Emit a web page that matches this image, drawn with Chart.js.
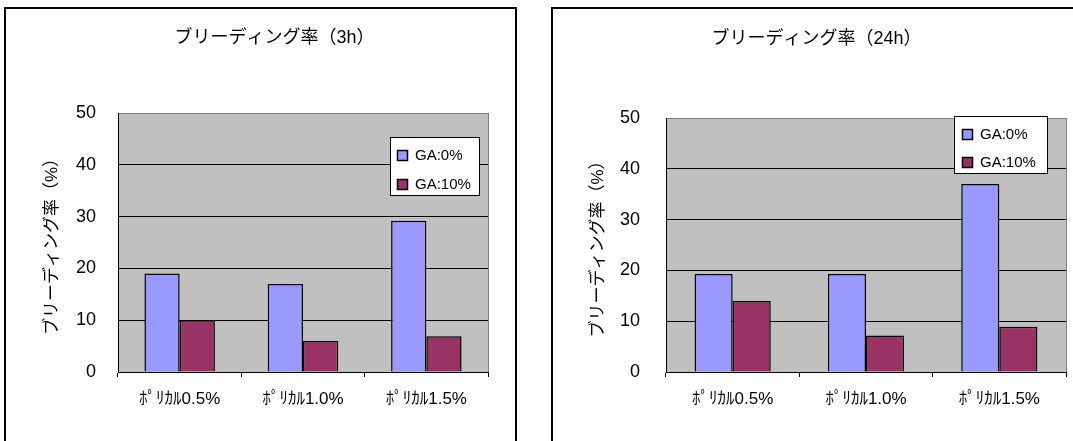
<!DOCTYPE html>
<html lang="ja">
<head>
<meta charset="UTF-8">
<title>ブリーディング率</title>
<script src="https://cdn.jsdelivr.net/npm/chart.js"></script>
<style>
  body { margin: 0; background: #fff; overflow: hidden; }
  .box { position: absolute; top: 7px; border-left: 2px solid #000; border-top: 2px solid #000; }
  #box1 { left: 4px; width: 509px; height: 440px; border-right: 2px solid #000; }
  #box2 { left: 551px; width: 520px; height: 440px; }
  canvas { display: block; }
</style>
</head>
<body>
<div class="box" id="box1"><canvas id="chart3h" width="537" height="440"></canvas></div>
<div class="box" id="box2"><canvas id="chart24h" width="527" height="440"></canvas></div>

<script>
const categories = ['ﾎﾟﾘｶﾙ0.5%', 'ﾎﾟﾘｶﾙ1.0%', 'ﾎﾟﾘｶﾙ1.5%'];
const seriesNames = ['GA:0%', 'GA:10%'];
const ga0_3h = [19, 17, 29.2];
const ga10_3h = [10, 6, 6.9];
const ga0_24h = [19.3, 19.3, 37];
const ga10_24h = [14, 7.2, 8.9];
const yMax = 50;
const yStep = 10;

const FONT = '"Liberation Sans", "Noto Sans CJK JP", sans-serif';

// grey plot area + grey right edge
const plotBg = {
    id: 'plotBg',
    beforeDraw(chart) {
        const { ctx, chartArea: a } = chart;
        ctx.save();
        ctx.fillStyle = '#c0c0c0';
        ctx.fillRect(a.left, a.top, a.right - a.left, a.bottom - a.top);
        ctx.restore();
    },
    afterDraw(chart) {
        const { ctx, chartArea: a } = chart;
        ctx.save();
        ctx.strokeStyle = '#808080';
        ctx.lineWidth = 1;
        ctx.beginPath();
        ctx.moveTo(a.right + 0.5, a.top);
        ctx.lineTo(a.right + 0.5, a.bottom);
        ctx.stroke();
        ctx.restore();
    }
};

// legend box drawn inside the plot, like the original
const boxLegend = {
    id: 'boxLegend',
    afterDraw(chart, args, opts) {
        const { ctx, chartArea: a } = chart;
        const x = Math.round(a.left + opts.dx), y = Math.round(a.top + opts.dy);
        ctx.save();
        ctx.fillStyle = '#fff';
        ctx.fillRect(x, y, opts.w, opts.h);
        ctx.strokeStyle = '#000';
        ctx.lineWidth = 1;
        ctx.strokeRect(x + 0.5, y + 0.5, opts.w, opts.h);
        ctx.font = '15px ' + FONT;
        ctx.textBaseline = 'middle';
        chart.data.datasets.forEach((ds, i) => {
            const cy = Math.round(y + opts.rowTop + i * opts.rowGap);
            ctx.fillStyle = ds.backgroundColor;
            ctx.fillRect(x + opts.sq, cy - 5, 10, 10);
            ctx.lineWidth = 1.5;
            ctx.strokeRect(x + opts.sq + 0.5, cy - 4.5, 10, 10);
            ctx.fillStyle = '#000';
            ctx.fillText(ds.label, x + opts.tx, cy + 1);
        });
        ctx.restore();
    }
};

function makeChart(id, title, d0, d1, lay) {
    new Chart(document.getElementById(id), {
        type: 'bar',
        data: {
            labels: categories,
            datasets: [
                { label: seriesNames[0], data: d0, backgroundColor: '#9999ff', borderColor: '#000', borderWidth: 1.5 },
                { label: seriesNames[1], data: d1, backgroundColor: '#993366', borderColor: '#000', borderWidth: 1.5 }
            ]
        },
        options: {
            responsive: false,
            animation: false,
            layout: { padding: 0 },
            datasets: { bar: { categoryPercentage: 2 / 3.5, barPercentage: 1 } },
            plugins: {
                legend: { display: false },
                tooltip: { enabled: false },
                title: {
                    display: true,
                    text: title,
                    color: '#000',
                    font: { family: FONT, size: 18, weight: 'normal' },
                    padding: { top: lay.titleTop, bottom: lay.titleBottom }
                },
                boxLegend: lay.legend
            },
            scales: {
                x: {
                    afterFit: s => { s.height = 77; },
                    grid: { display: true, drawOnChartArea: false, drawTicks: true, tickLength: 5, color: '#000' },
                    border: { color: '#000', width: 1 },
                    ticks: { color: '#000', padding: 12, font: { family: FONT, size: 17 } }
                },
                y: {
                    min: 0,
                    max: yMax,
                    afterFit: s => { s.width = lay.yWidth; },
                    grid: {
                        drawTicks: false,
                        color: c => (c.tick && c.tick.value === yMax ? '#808080' : '#000')
                    },
                    border: { color: '#000', width: 1 },
                    ticks: { stepSize: yStep, color: '#000', padding: lay.tickPad, font: { family: FONT, size: 18 } },
                    title: {
                        display: true,
                        text: 'ブリーディング率（%）',
                        color: '#000',
                        font: { family: FONT, size: 17 },
                        padding: { top: lay.yTitlePad, bottom: 0 }
                    }
                },
                // empty right-hand spacer so the title centres over the whole frame
                spacer: {
                    position: 'right',
                    afterFit: s => { s.width = lay.rightGap; },
                    grid: { drawOnChartArea: false, drawTicks: false },
                    border: { display: false },
                    ticks: { display: false }
                }
            }
        },
        plugins: [plotBg, boxLegend]
    });
}

makeChart('chart3h', 'ブリーディング率（3h）', ga0_3h, ga10_3h, {
    rightGap: 55, yWidth: 112, tickPad: 22, yTitlePad: 36,
    titleTop: 18, titleBottom: 64.4,
    legend: { dx: 272, dy: 24, w: 89, h: 58, rowTop: 17.5, rowGap: 29, sq: 7, tx: 25 }
});

makeChart('chart24h', 'ブリーディング率（24h）', ga0_24h, ga10_24h, {
    rightGap: 14, yWidth: 113, tickPad: 26, yTitlePad: 35,
    titleTop: 19, titleBottom: 68.4,
    legend: { dx: 288, dy: -2, w: 93, h: 57, rowTop: 17.5, rowGap: 28, sq: 8, tx: 26 }
});
</script>
</body>
</html>
